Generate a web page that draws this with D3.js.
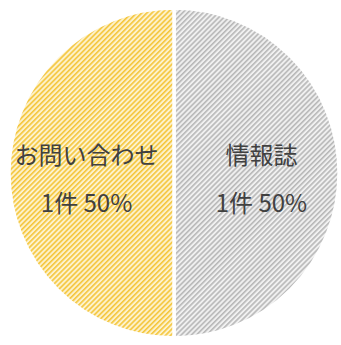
<!DOCTYPE html>
<html>
<head>
<meta charset="utf-8">
<style>
    body { margin: 0; background: #fff; }
    svg { display: block; }
    .lbl { font-family: 'Noto Sans CJK JP', 'Noto Sans', sans-serif; fill: #404040; }
</style>
</head>
<body>
<svg width="341" height="345"></svg>
<script src="https://d3js.org/d3.v7.min.js"></script>
<script>
    // data
    let categories = ["情報誌", "お問い合わせ"];
    let counts = [1, 1];
    let percents = ["50%", "50%"];

    let width = 341, height = 345;
    let cx = 174, cy = 173, radius = 165;

    let svg = d3.select("svg");
    let defs = svg.append("defs");

    // hatch patterns (light base + diagonal stripes)
    let hatch = [
        { id: "hatch-gray", bg: "#f0f0f0", fg: "#b8b8b8" },
        { id: "hatch-yellow", bg: "#fdf2cc", fg: "#f4c63c" }
    ];
    hatch.forEach(h => {
        let p = defs.append("pattern")
            .attr("id", h.id)
            .attr("patternUnits", "userSpaceOnUse")
            .attr("width", 3.6)
            .attr("height", 10)
            .attr("patternTransform", "rotate(45)");
        p.append("rect").attr("width", 3.6).attr("height", 10).attr("fill", h.bg);
        p.append("rect").attr("width", 1.6).attr("height", 10).attr("fill", h.fg);
    });

    let pie = d3.pie().sort(null).value(d => d)
    let arcs = pie(counts);

    let arc = d3.arc().innerRadius(0).outerRadius(radius);
    let labelArc = d3.arc().innerRadius(radius * 0.53).outerRadius(radius * 0.53);

    let g = svg.append("g").attr("transform", `translate(${cx},${cy})`);

    g.selectAll("path")
        .data(arcs)
        .join("path")
        .attr("d", arc)
        .attr("fill", (d, i) => `url(#${hatch[i].id})`)
        .attr("stroke", "#fff")
        .attr("stroke-width", 3.5);

    let labels = g.selectAll(".lbl")
        .data(arcs)
        .join("text")
        .attr("class", "lbl")
        .attr("text-anchor", "middle")
        .attr("transform", d => `translate(${labelArc.centroid(d)})`)
        .style("font-size", "24px");

    labels.append("tspan")
        .attr("x", 0)
        .attr("y", -9)
        .text((d, i) => categories[i]);
    labels.append("tspan")
        .attr("x", 0)
        .attr("y", 39)
        .text((d, i) => counts[i] + "件 " + percents[i]);
</script>
</body>
</html>
